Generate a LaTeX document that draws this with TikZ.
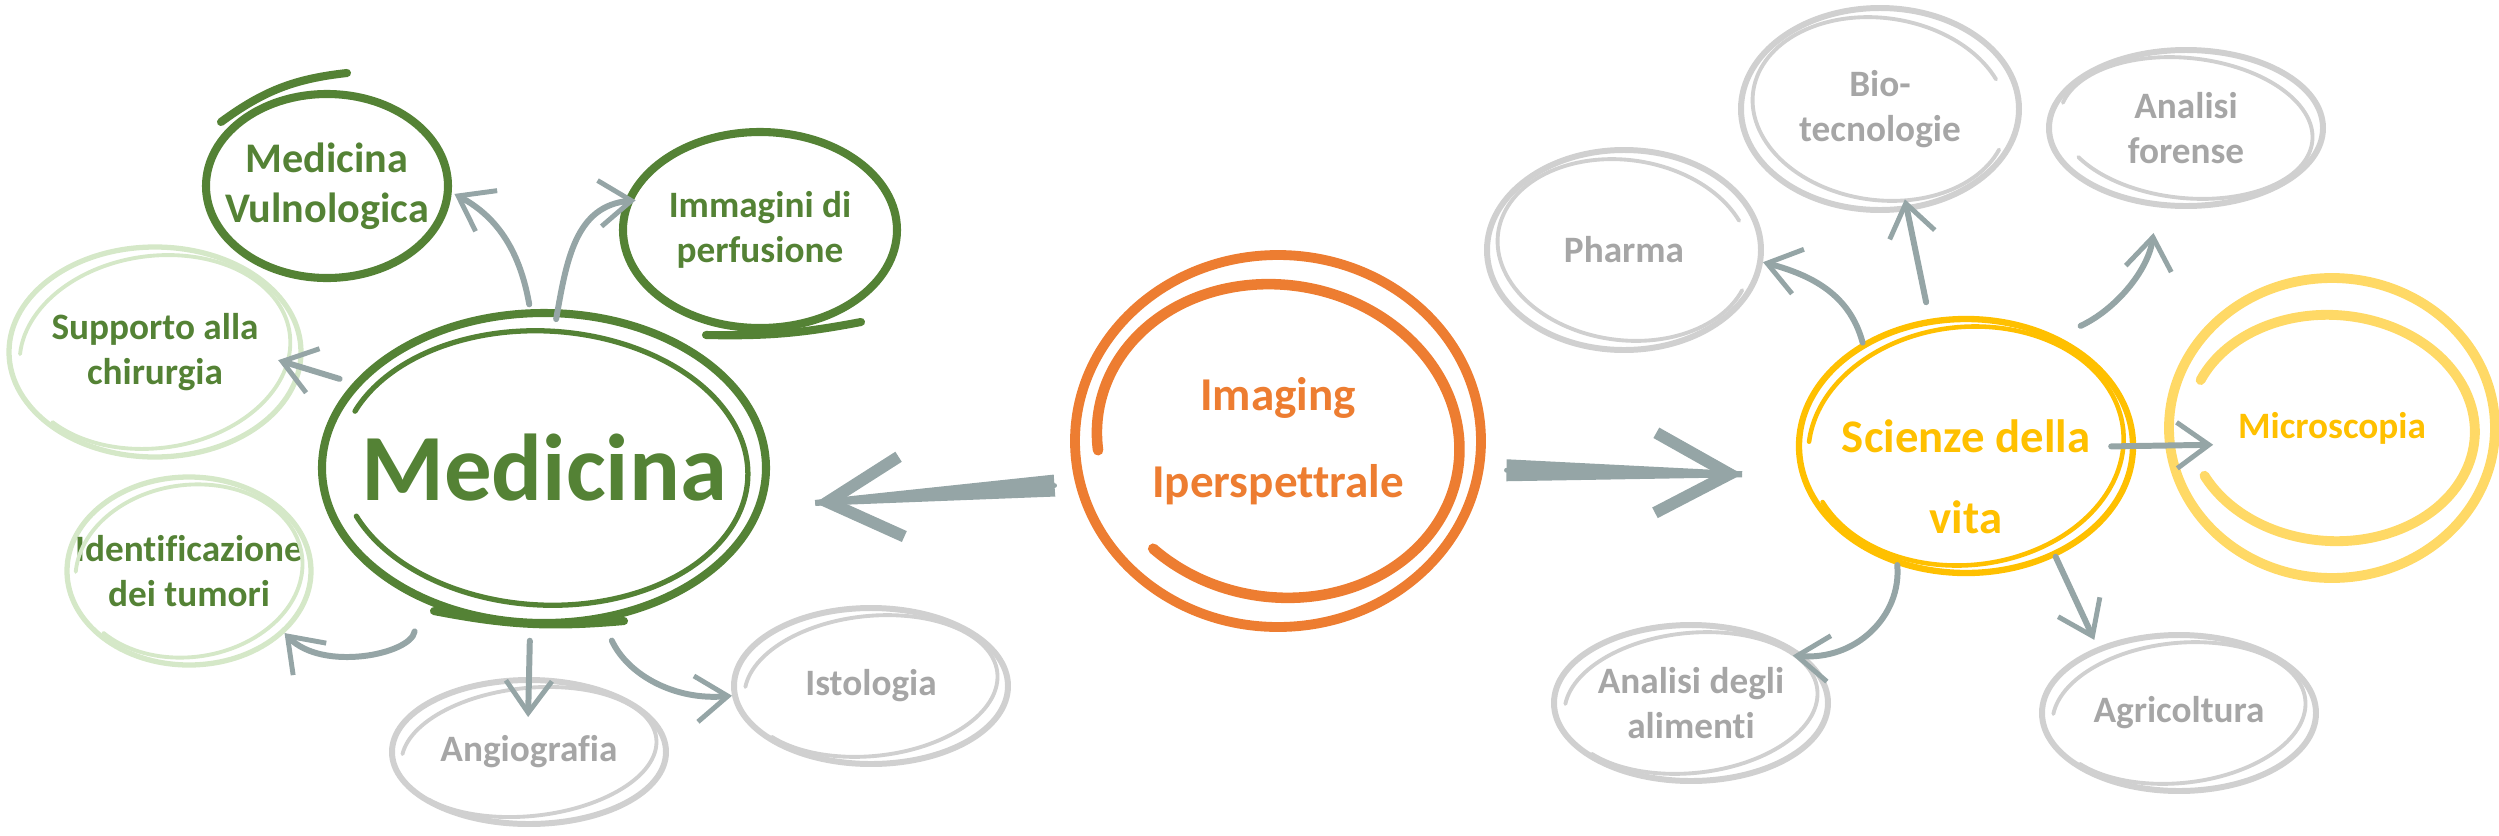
\documentclass[tikz,border=0pt]{standalone}
\usepackage{fontspec}
\setmainfont{Carlito}[Ligatures=NoCommon]
\usetikzlibrary{calc,arrows.meta,shapes.geometric}

\definecolor{medgreen}{HTML}{548235}
\definecolor{palegreen}{HTML}{D5E8C8}
\definecolor{loopgrey}{HTML}{D0D0D0}
\definecolor{textgrey}{HTML}{A6A6A6}
\definecolor{imgorange}{HTML}{ED7D31}
\definecolor{sciyellow}{HTML}{FFC000}
\definecolor{micyellow}{HTML}{FFD966}
\definecolor{arrowgrey}{HTML}{95A5A6}

\begin{document}
\begin{tikzpicture}[x=0.1mm,y=0.1mm,line cap=round]

\tikzset{topic/.style={shape=ellipse,inner sep=-1cm,align=center,font=\bfseries\fontsize{10.6}{12.8}\selectfont},
greentopic/.style={topic,draw=medgreen,text=medgreen,line width=2.3pt},
paletopic/.style={topic,draw=palegreen,text=medgreen,line width=1.5pt},
greytopic/.style={topic,draw=loopgrey,text=textgrey,line width=1.7pt},
greenloop/.style={draw=medgreen,line width=1.5pt},
paleloop/.style={draw=palegreen,line width=1.1pt},
greyloop/.style={draw=loopgrey,line width=1.1pt},
link/.style={draw=arrowgrey,line width=1.7pt,-{Straight Barb[length=3.2mm,width=4.6mm,line width=1.4pt]}},
biglink/.style={draw=arrowgrey,line width=1.4pt,-{Straight Barb[length=7.4mm,width=8mm,line width=3.4pt]}}}

\useasboundingbox (0,0) rectangle (2499,835);

% Middle node
\node[topic,draw=imgorange,text=imgorange,line width=2.8pt,minimum width=40.6mm,minimum height=37.2mm,font=\bfseries\fontsize{13.4}{24.6}\selectfont] (img) at (1278,394) {Imaging\\Iperspettrale};

% Left nodes
\node[greentopic,minimum width=44.4mm,minimum height=31mm,font=\bfseries\fontsize{27}{30}\selectfont] (med) at (544,367) {Medicina};
\node[greentopic,minimum width=24.2mm,minimum height=18.4mm,font=\bfseries\fontsize{12}{14.2}\selectfont] (vul) at (327,649) {Medicina\\Vulnologica};
\node[greentopic,minimum width=27.4mm,minimum height=19.6mm] (imm) at (760,605) {Immagini di\\perfusione};
\node[paletopic,minimum width=29.2mm,minimum height=21mm] (sup) at (155,483) {Supporto alla\\chirurgia};
\node[paletopic,minimum width=24.4mm,minimum height=18.8mm] (idt) at (189,264) {Identificazione\\dei tumori};
\node[greytopic,minimum width=27.4mm,minimum height=14.4mm] (ang) at (529,83) {Angiografia};
\node[greytopic,minimum width=27.4mm,minimum height=15.6mm] (ist) at (871,149) {Istologia};

% Right nodes
\node[topic,draw=sciyellow,text=sciyellow,line width=1.8pt,minimum width=33.4mm,minimum height=25.4mm,font=\bfseries\fontsize{13.3}{23}\selectfont] (sci) at (1966,389) {\rule{0pt}{27pt}Scienze della\\vita};
\node[topic,draw=micyellow,text=sciyellow,line width=2.8pt,minimum width=32.6mm,minimum height=30mm] (mic) at (2332,407) {Microscopia};
\node[greytopic,minimum width=27.4mm,minimum height=20mm] (pha) at (1624,585) {Pharma};
\node[greytopic,minimum width=27.8mm,minimum height=20.2mm] (bio) at (1880,726) {Bio-\\tecnologie};
\node[greytopic,minimum width=27.4mm,minimum height=15.6mm] (frn) at (2186,707) {Analisi\\forense};
\node[greytopic,minimum width=27.4mm,minimum height=15.6mm] (ali) at (1691,132) {Analisi degli\\alimenti};
\node[greytopic,minimum width=27.4mm,minimum height=15.6mm] (agr) at (2179,122) {Agricoltura};

% Second strokes of the loops
\draw[greenloop,rotate around={-3:(med)}] ($(med)+(205:204 and 137)$) arc[start angle=205,end angle=520,x radius=204,y radius=137];
\draw[greenloop,line width=2.3pt] ($(med)+(-110,-143)$) to[bend right=8] ($(med)+(80,-153)$);
\draw[greenloop,line width=2.3pt] ($(vul)+(-106,64)$) to[bend left=15] ($(vul)+(20,113)$);
\draw[greenloop,line width=2.3pt] ($(imm)+(-54,-105)$) to[bend right=6] ($(imm)+(101,-92)$);
\draw[paleloop,rotate around={8:(sup)}] ($(sup)+(215:136 and 96)$) arc[start angle=215,end angle=530,x radius=136,y radius=96];
\draw[paleloop,rotate around={8:(idt)}] ($(idt)+(215:114 and 86)$) arc[start angle=215,end angle=530,x radius=114,y radius=86];
\draw[greyloop,rotate around={6:(ang)}] ($(ang)+(215:128 and 64)$) arc[start angle=215,end angle=530,x radius=128,y radius=64];
\draw[greyloop,rotate around={6:(ist)}] ($(ist)+(215:127 and 70)$) arc[start angle=215,end angle=530,x radius=127,y radius=70];
\draw[greyloop,rotate around={-8:(pha)}] ($(pha)+(30:127 and 90)$) arc[start angle=30,end angle=345,x radius=127,y radius=90];
\draw[greyloop,rotate around={-8:(bio)}] ($(bio)+(30:128 and 91)$) arc[start angle=30,end angle=345,x radius=128,y radius=91];
\draw[greyloop,rotate around={-6:(frn)}] ($(frn)+(215:127 and 70)$) arc[start angle=215,end angle=530,x radius=127,y radius=70];
\draw[greyloop,rotate around={6:(ali)}] ($(ali)+(215:127 and 70)$) arc[start angle=215,end angle=530,x radius=127,y radius=70];
\draw[greyloop,rotate around={6:(agr)}] ($(agr)+(215:127 and 70)$) arc[start angle=215,end angle=530,x radius=127,y radius=70];
\draw[draw=imgorange,line width=3pt,rotate around={-10:(img)}] ($(img)+(235:182 and 156)$) arc[start angle=235,end angle=555,x radius=182,y radius=156];
\draw[draw=sciyellow,line width=1.3pt,rotate around={6:(sci)}] ($(sci)+(200:158 and 119)$) arc[start angle=200,end angle=530,x radius=158,y radius=119];
\draw[draw=micyellow,line width=2.8pt,rotate around={-4:(mic)}] ($(mic)+(210:143 and 113)$) arc[start angle=210,end angle=520,x radius=143,y radius=113];

% Big arrows
\coordinate (lt) at ($(img.192)!2.1mm!(med.-10)$);
\coordinate (lh) at ($(med.-10)!5.2mm!(img.192)$);
\fill[arrowgrey] ($(lt)!1.1mm!90:(lh)$) -- ($(lh)!0.3mm!-90:(lt)$) -- ($(lh)!0.3mm!90:(lt)$) -- ($(lt)!1.1mm!-90:(lh)$) -- cycle;
\draw[biglink,shorten <=2.1mm,shorten >=5.2mm] (img.192) -- (med.-10);
\coordinate (rt) at ($(img.-8)!2.3mm!(sci.190)$);
\coordinate (rh) at ($(sci.190)!5.8mm!(img.-8)$);
\fill[arrowgrey] ($(rt)!1.1mm!90:(rh)$) -- ($(rh)!0.3mm!-90:(rt)$) -- ($(rh)!0.3mm!90:(rt)$) -- ($(rt)!1.1mm!-90:(rh)$) -- cycle;
\draw[biglink,shorten <=2.3mm,shorten >=5.8mm] (img.-8) -- (sci.190);

% Small arrows, left
\draw[link,shorten <=0.5mm,shorten >=0.3mm] (med.95) to[out=100,in=-28] (vul.-3);
\draw[link,shorten <=-1mm,shorten >=-1.1mm] (med.85) to[out=80,in=185] (imm.168);
\draw[link,shorten <=1.4mm,shorten >=-2.5mm] (med.156) -- (sup.-6);
\draw[link,shorten <=3.1mm] (med.227) to[out=-100,in=-46] (idt.-33);
\draw[link,shorten <=1.4mm,shorten >=-4mm] (med.265) -- (ang.north);
\draw[link,shorten <=2.1mm] (med.291) to[out=-65,in=185] (ist.184);

% Small arrows, right
\draw[link] (sci.135) to[out=105,in=-15] (pha.-5);
\draw[link,shorten <=1.7mm,shorten >=-1.2mm] (sci.106) -- (bio.-75);
\draw[link,shorten <=2.5mm,shorten >=2.6mm] (sci.50) to[out=25,in=-98] (frn.250);
\draw[link,shorten <=-2.5mm,shorten >=-4.8mm] (sci.0) -- (mic.186);
\draw[link,shorten >=-1.3mm] (sci.240) to[out=-85,in=-5] (ali.22);
\draw[link,shorten >=0.8mm] (sci.-51) -- (agr.141);

\end{tikzpicture}
\end{document}
